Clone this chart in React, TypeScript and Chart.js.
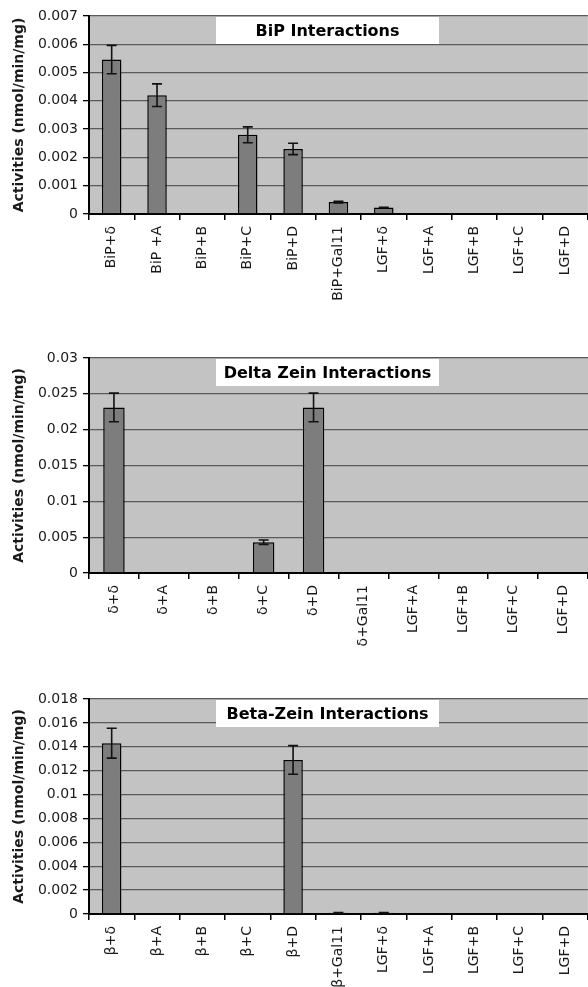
import React, { useEffect, useRef } from 'react';
import { Chart, registerables } from 'chart.js';

Chart.register(...registerables);
Chart.defaults.font.family = "'DejaVu Sans', sans-serif";

// ---- Data ----
const bipLabels = ['BiP+δ', 'BiP +A', 'BiP+B', 'BiP+C', 'BiP+D', 'BiP+Gal11', 'LGF+δ', 'LGF+A', 'LGF+B', 'LGF+C', 'LGF+D'];
const bipValues = [0.00546, 0.0042, 0, 0.0028, 0.0023, 0.00042, 0.00023, 0, 0, 0, 0];
const bipErrors = [0.0005, 0.0004, 0, 0.00028, 0.0002, 0.00003, 0.00001, 0, 0, 0, 0];
const bipTicks = [0, 0.001, 0.002, 0.003, 0.004, 0.005, 0.006, 0.007];
const bipTitle = 'BiP Interactions';

const deltaLabels = ['δ+δ', 'δ+A', 'δ+B', 'δ+C', 'δ+D', 'δ+Gal11', 'LGF+A', 'LGF+B', 'LGF+C', 'LGF+D'];
const deltaValues = [0.0231, 0, 0, 0.0043, 0.0231, 0.0001, 0, 0, 0, 0];
const deltaErrors = [0.002, 0, 0, 0.0003, 0.002, 0, 0, 0, 0, 0];
const deltaTicks = [0, 0.005, 0.01, 0.015, 0.02, 0.025, 0.03];
const deltaTitle = 'Delta Zein Interactions';

const betaLabels = ['β+δ', 'β+A', 'β+B', 'β+C', 'β+D', 'β+Gal11', 'LGF+δ', 'LGF+A', 'LGF+B', 'LGF+C', 'LGF+D'];
const betaValues = [0.0143, 0, 0, 0, 0.0129, 0.0001, 0.0001, 0, 0, 0, 0];
const betaErrors = [0.00125, 0, 0, 0, 0.0012, 0.00002, 0.00002, 0, 0, 0, 0];
const betaTicks = [0, 0.002, 0.004, 0.006, 0.008, 0.01, 0.012, 0.014, 0.016, 0.018];
const betaTitle = 'Beta-Zein Interactions';

const yTitle = 'Activities (nmol/min/mg)';

type PanelProps = {
  labels: string[];
  values: number[];
  errors: number[];
  ticks: number[];
  title: string;
  top: number;
  height: number;
  padTop: number;
  xHeight: number;
};

function Panel({ labels, values, errors, ticks, title, top, height, padTop, xHeight }: PanelProps) {
  const ref = useRef<HTMLCanvasElement | null>(null);

  useEffect(() => {
    if (!ref.current) return;

    const plotBg = {
      id: 'plotBg',
      beforeDraw(chart: any) {
        const { ctx, chartArea: a } = chart;
        ctx.save();
        ctx.fillStyle = '#c3c3c3';
        ctx.fillRect(a.left, a.top, a.right - a.left, a.bottom - a.top);
        ctx.restore();
      },
    };

    const errorBars = {
      id: 'errorBars',
      afterDatasetsDraw(chart: any) {
        const { ctx } = chart;
        const meta = chart.getDatasetMeta(0);
        const y = chart.scales.y;
        ctx.save();
        ctx.strokeStyle = '#111';
        ctx.lineWidth = 1.6;
        values.forEach((v, i) => {
          const e = errors[i];
          if (!e) return;
          const x = meta.data[i].x;
          const yt = y.getPixelForValue(v + e);
          const yb = y.getPixelForValue(v - e);
          const cap = 5;
          ctx.beginPath();
          ctx.moveTo(x, yt);
          ctx.lineTo(x, yb);
          ctx.moveTo(x - cap, yt);
          ctx.lineTo(x + cap, yt);
          ctx.moveTo(x - cap, yb);
          ctx.lineTo(x + cap, yb);
          ctx.stroke();
        });
        ctx.restore();
      },
    };

    const titleBox = {
      id: 'titleBox',
      afterDatasetsDraw(chart: any) {
        const { ctx, chartArea: a } = chart;
        const bx = a.left + 127;
        const by = a.top + 1;
        const bw = 223;
        const bh = 27;
        ctx.save();
        ctx.fillStyle = '#ffffff';
        ctx.fillRect(bx, by, bw, bh);
        ctx.fillStyle = '#000';
        ctx.font = "bold 16px 'DejaVu Sans', sans-serif";
        ctx.textAlign = 'center';
        ctx.textBaseline = 'middle';
        ctx.fillText(title, bx + bw / 2, by + bh / 2 + 1);
        ctx.restore();
      },
    };

    const chart = new Chart(ref.current, {
      type: 'bar',
      data: {
        labels,
        datasets: [
          {
            data: values,
            backgroundColor: '#7d7d7d',
            borderColor: '#000',
            borderWidth: 1.5,
            categoryPercentage: 1,
            barPercentage: 0.43,
          },
        ],
      },
      options: {
        responsive: false,
        animation: false,
        devicePixelRatio: 1,
        layout: { padding: { top: padTop, right: 0, left: 0, bottom: 0 } },
        plugins: {
          legend: { display: false },
          tooltip: { enabled: false },
          title: { display: false },
        },
        scales: {
          x: {
            offset: true,
            grid: {
              offset: true,
              drawOnChartArea: false,
              drawTicks: true,
              tickLength: 6,
              color: '#000',
              lineWidth: 1.5,
            },
            border: { color: '#000', width: 2 },
            ticks: {
              autoSkip: false,
              minRotation: 90,
              maxRotation: 90,
              padding: 6,
              color: '#1a1a1a',
              font: { size: 14 },
            },
            afterFit: (scale: any) => {
              scale.height = xHeight;
            },
          },
          y: {
            min: ticks[0],
            max: ticks[ticks.length - 1],
            afterBuildTicks: (scale: any) => {
              scale.ticks = ticks.map((v) => ({ value: v }));
            },
            grid: {
              color: '#5a5a5a',
              lineWidth: 1.3,
              tickColor: '#000',
              tickLength: 6,
            },
            border: { color: '#000', width: 2 },
            ticks: {
              color: '#1a1a1a',
              padding: 5,
              font: { size: 14 },
              callback: (v: any) => String(v),
            },
            title: {
              display: true,
              text: yTitle,
              color: '#1a1a1a',
              font: { size: 14, weight: 'bold' },
              padding: { top: 11, bottom: 0 },
            },
            afterFit: (scale: any) => {
              scale.width = 89;
            },
          },
        },
      },
      plugins: [plotBg, errorBars, titleBox],
    });

    return () => chart.destroy();
  }, [labels, values, errors, ticks, title, padTop, xHeight]);

  return (
    <canvas
      ref={ref}
      width={588}
      height={height}
      style={{ position: 'absolute', left: 0, top, width: 588, height }}
    />
  );
}

export default function App() {
  return (
    <div
      style={{
        position: 'absolute',
        left: 0,
        top: 0,
        width: 588,
        height: 987,
        background: '#fff',
        overflow: 'hidden',
      }}
    >
      <Panel
        labels={bipLabels}
        values={bipValues}
        errors={bipErrors}
        ticks={bipTicks}
        title={bipTitle}
        top={0}
        height={310}
        padTop={16}
        xHeight={96}
      />
      <Panel
        labels={deltaLabels}
        values={deltaValues}
        errors={deltaErrors}
        ticks={deltaTicks}
        title={deltaTitle}
        top={310}
        height={345}
        padTop={48}
        xHeight={82}
      />
      <Panel
        labels={betaLabels}
        values={betaValues}
        errors={betaErrors}
        ticks={betaTicks}
        title={betaTitle}
        top={655}
        height={332}
        padTop={44}
        xHeight={73}
      />
    </div>
  );
}
